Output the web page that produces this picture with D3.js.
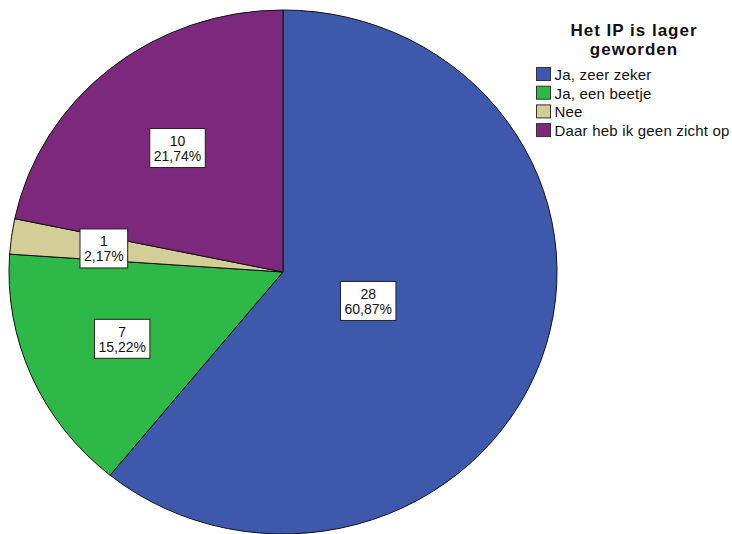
<!DOCTYPE html>
<html lang="nl">
<head>
<meta charset="utf-8">
<title>Het IP is lager geworden</title>
<script src="https://d3js.org/d3.v7.min.js"></script>
<style>
  body { margin: 0; background: #fff; }
  text { font-family: "Liberation Sans", Arial, sans-serif; }
</style>
</head>
<body>
<svg width="732" height="534"></svg>
<script>
    var categories = ["Ja, zeer zeker", "Ja, een beetje", "Nee", "Daar heb ik geen zicht op"];
    var counts = [28, 7, 1, 10];
    var percents = ["60,87%", "15,22%", "2,17%", "21,74%"];
    var colors = ["#3e58ac", "#2eb848", "#d3ce97", "#7c287d"];
    var legendTitle = ["Het IP is lager", "geworden"];
    // hoe ver de labels van het midden staan (deel van de straal)
    var labelPos = [0.33, 0.64, 0.66, 0.61];

    var svg = d3.select("svg");
    var cx = 283, cy = 272, rx = 274, ry = 262;
    var r = 100;

    var pie = d3.pie().sort(null).value(function(d){ return d; });
    var arcs = pie(counts);
    var arc = d3.arc().innerRadius(0).outerRadius(r);

    // taart is een ellips: cirkel schalen
    var g = svg.append("g")
        .attr("transform", "translate(" + cx + "," + cy + ") scale(" + (rx / r) + "," + (ry / r) + ")");

    g.selectAll("path")
        .data(arcs)
        .enter()
        .append("path")
        .attr("d", arc)
        .attr("fill", function(d, i){ return colors[i]; })
        .attr("stroke", "#111")
        .attr("stroke-width", 1)
        .attr("vector-effect", "non-scaling-stroke");

    // labels
    var lab = svg.append("g");
    arcs.forEach(function(d, i) {
        var a = (d.startAngle + d.endAngle) / 2;
        var x = cx + Math.sin(a) * rx * labelPos[i];
        var y = cy - Math.cos(a) * ry * labelPos[i];
        var lg = lab.append("g").attr("transform", "translate(" + x + "," + y + ")");
        var t = lg.append("text")
            .attr("text-anchor", "middle")
            .attr("font-size", 14)
            .attr("fill", "#111");
        t.append("tspan").attr("x", 0).attr("y", -2).text(counts[i]);
        t.append("tspan").attr("x", 0).attr("y", 13).text(percents[i]);
        var w = t.node().getBBox().width + 8;
        lg.insert("rect", "text")
            .attr("x", -w / 2)
            .attr("y", -19.5)
            .attr("width", w)
            .attr("height", 39)
            .attr("fill", "#fff")
            .attr("stroke", "#222")
            .attr("stroke-width", 1);
    });

    // legenda
    var leg = svg.append("g");
    leg.selectAll("text.title")
        .data(legendTitle)
        .enter()
        .append("text")
        .attr("class", "title")
        .attr("x", 634)
        .attr("y", function(d, i){ return 36 + i * 19; })
        .attr("text-anchor", "middle")
        .attr("font-size", 17)
        .attr("font-weight", "bold")
        .attr("letter-spacing", 1)
        .attr("fill", "#111")
        .text(function(d){ return d; });

    var item = leg.selectAll("g.item")
        .data(categories)
        .enter()
        .append("g")
        .attr("class", "item")
        .attr("transform", function(d, i){ return "translate(536.5," + (67.5 + i * 18.7) + ")"; });

    item.append("rect")
        .attr("width", 14)
        .attr("height", 13)
        .attr("fill", function(d, i){ return colors[i]; })
        .attr("stroke", "#333")
        .attr("stroke-width", 1);

    item.append("text")
        .attr("x", 18)
        .attr("y", 12.5)
        .attr("font-size", 15)
        .attr("letter-spacing", 0.2)
        .attr("fill", "#111")
        .text(function(d){ return d; });
</script>
</body>
</html>
